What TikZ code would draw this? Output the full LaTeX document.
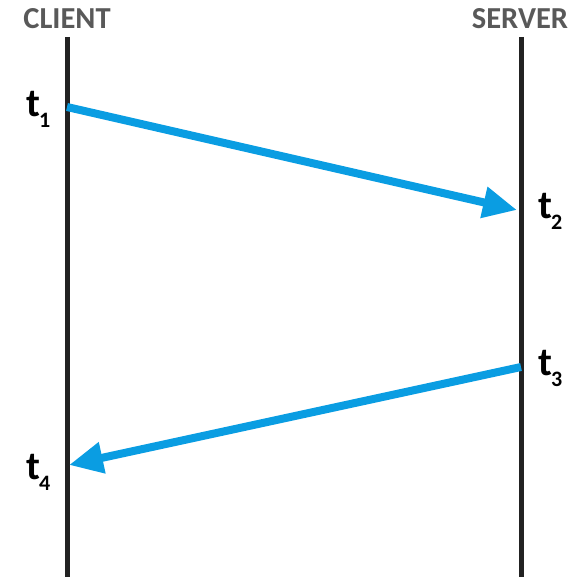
\documentclass[tikz,border=0pt]{standalone}
\usepackage{fontspec}
\setmainfont{Carlito}
\usetikzlibrary{arrows.meta}
\definecolor{msgblue}{HTML}{0A9DE2}
\definecolor{hdrgray}{HTML}{595959}
\definecolor{linegray}{HTML}{222222}
\newcommand{\tsub}[1]{\kern-1pt\raisebox{-11pt}{\fontsize{22}{24}\selectfont #1}}
\tikzset{
  lifeline/.style={draw=linegray, line width=5pt},
  msg/.style={draw=msgblue, line width=8pt, -{Triangle[length=34pt,width=30pt]}},
  hdr/.style={font=\fontsize{30.5}{32}\selectfont\bfseries, text=hdrgray, inner sep=0pt},
  tlabel/.style={font=\fontsize{40}{42}\selectfont\bfseries, text=black, inner sep=0pt, anchor=base west},
}
\begin{document}
\begin{tikzpicture}[x=1pt,y=-1pt]
\useasboundingbox (0,0) rectangle (579,577);
% lifelines
\coordinate (ctop) at (67,37);
\coordinate (cbot) at (67,577);
\coordinate (stop) at (521,37);
\coordinate (sbot) at (521,577);
\draw[lifeline] (ctop) -- (cbot);
\draw[lifeline] (stop) -- (sbot);
% headers
\node[hdr] (client) at (67,19) {CLIENT};
\node[hdr] (server) at (520,19) {SERVER};
% messages
\coordinate (t1p) at (67,107);
\coordinate (t2p) at (517,210);
\coordinate (t3p) at (521,367);
\coordinate (t4p) at (69,465);
\draw[msg] (t1p) -- (t2p);
\draw[msg] (t3p) -- (t4p);
% time labels
\node[tlabel] (t1) at (26,117) {t\tsub{1}};
\node[tlabel] (t2) at (538,219) {t\tsub{2}};
\node[tlabel] (t3) at (538,376) {t\tsub{3}};
\node[tlabel] (t4) at (26,480) {t\tsub{4}};
\end{tikzpicture}
\end{document}
